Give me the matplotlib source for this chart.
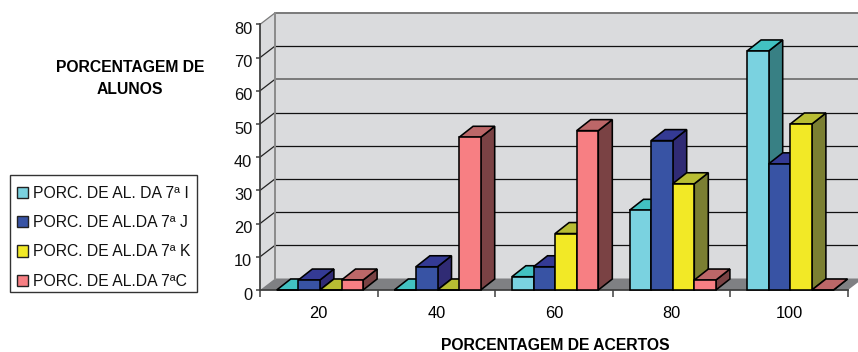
#!/usr/bin/env python3
"""Pseudo-3D clustered bar chart of students per score band, one series per class."""

import matplotlib
matplotlib.use('Agg')
import matplotlib.pyplot as plt
from matplotlib.patches import Patch, Polygon, Rectangle
from matplotlib.transforms import ScaledTranslation

plt.rcParams['font.family'] = ['Liberation Sans', 'DejaVu Sans']

categories = ['20', '40', '60', '80', '100']
y_ticks = [0, 10, 20, 30, 40, 50, 60, 70, 80]

turma_i = [0, 0, 4, 24, 72]
turma_j = [3, 7, 7, 45, 38]
turma_k = [0, 0, 17, 32, 50]
turma_c = [3, 46, 48, 3, 0]

series = [turma_i, turma_j, turma_k, turma_c]
labels = ['PORC. DE AL. DA 7ª I', 'PORC. DE AL.DA 7ª J',
          'PORC. DE AL.DA 7ª K', 'PORC. DE AL.DA 7ªC']
# front, top, side
colors = [('#7ad2e0', '#42c2c2', '#388084'),
          ('#3853a4', '#343a94', '#302b74'),
          ('#f2e926', '#b8bd33', '#7b7f32'),
          ('#f77f83', '#bc6768', '#7a4244')]

W, H = 858, 352
WALL_COLOR = '#dadbdd'
FLOOR_COLOR = '#7f8083'
AXIS_COLOR = '#404040'

# extrusion of the box, in data units
wall_dx = 15 / 117.6
wall_dy = 11.5 / 3.32
bar_dx = 14 / 117.6
bar_dy = 11 / 3.32
bar_w = 21.6 / 117.6
first_bar = 16.7 / 117.6


def draw_walls(ax, n):
    top = y_ticks[-1]
    ax.add_patch(Polygon([(0, 0), (wall_dx, wall_dy), (wall_dx, top + wall_dy), (0, top)],
                         fc=WALL_COLOR, ec='none', clip_on=False, zorder=1))
    ax.add_patch(Polygon([(wall_dx, wall_dy), (n + wall_dx, wall_dy),
                          (n + wall_dx, top + wall_dy), (wall_dx, top + wall_dy)],
                         fc=WALL_COLOR, ec='none', clip_on=False, zorder=1))
    ax.add_patch(Polygon([(0, 0), (wall_dx, wall_dy), (n + wall_dx, wall_dy), (n, 0)],
                         fc=FLOOR_COLOR, ec='none', clip_on=False, zorder=2))
    for v in y_ticks[1:]:
        c = '#7a7a7a' if v in (60, 80) else '#111111'
        lw = 1.4 if v in (60, 80) else 0.9
        ax.plot([wall_dx, n + wall_dx], [v + wall_dy, v + wall_dy], color=c, lw=lw,
                clip_on=False, zorder=3, solid_capstyle='butt')
        ax.plot([0, wall_dx], [v, v + wall_dy], color='#7a7a7a' if v == 80 else '#222222',
                lw=0.9, clip_on=False, zorder=3)
    ax.plot([wall_dx, wall_dx], [wall_dy, top + wall_dy], color='#8a8a8a', lw=1.4,
            clip_on=False, zorder=3)


def draw_bar(ax, x, v, cols, z):
    ax.bar(x, v, bar_w, bottom=0, align='edge', facecolor=cols[0], edgecolor='black',
           linewidth=1.15, clip_on=False, zorder=z + 0.2)
    top = [(x, v), (x + bar_dx, v + bar_dy), (x + bar_w + bar_dx, v + bar_dy), (x + bar_w, v)]
    side = [(x + bar_w, 0), (x + bar_w + bar_dx, bar_dy),
            (x + bar_w + bar_dx, v + bar_dy), (x + bar_w, v)]
    ax.add_patch(Polygon(side, fc=cols[2], ec='black', lw=1.15, clip_on=False, zorder=z))
    ax.add_patch(Polygon(top, fc=cols[1], ec='black', lw=1.15, clip_on=False, zorder=z + 0.1))


fig = plt.figure(figsize=(W / 100, H / 100), dpi=100)
ax = fig.add_axes([260 / W, (H - 290) / H, 588 / W, 265.6 / H])
ax.patch.set_visible(False)
ax.set_xlim(0, len(categories))
ax.set_ylim(0, y_ticks[-1])

draw_walls(ax, len(categories))

z = 10
for g in range(len(categories)):
    for s, vals in enumerate(series):
        draw_bar(ax, g + first_bar + s * bar_w, vals[g], colors[s], z)
        z += 1

for name in ('top', 'right'):
    ax.spines[name].set_visible(False)
for name in ('left', 'bottom'):
    ax.spines[name].set_color(AXIS_COLOR)
    ax.spines[name].set_linewidth(1.3)
    ax.spines[name].set_zorder(5)

ax.set_yticks(y_ticks)
ax.set_yticklabels([str(v) for v in y_ticks], fontsize=11.8, color='#111111')
ax.set_xticks(range(len(categories) + 1))
ax.set_xticklabels([''] * (len(categories) + 1))
ax.tick_params(axis='y', length=3, width=1.1, color=AXIS_COLOR, pad=2.5)
ax.tick_params(axis='x', length=5, width=1.1, color=AXIS_COLOR)

# y labels sit slightly below their ticks
shift = ScaledTranslation(0, -3.5 / 100, fig.dpi_scale_trans)
for lab in ax.get_yticklabels():
    lab.set_transform(lab.get_transform() + shift)

for i, cat in enumerate(categories):
    ax.annotate(cat, (i + 0.5, 0), xytext=(0, -23), textcoords='offset pixels', ha='center',
                va='center', fontsize=11.8, color='black', annotation_clip=False)

title_size = 11.3
fig.text(130 / W, 1 - 67 / H, 'PORCENTAGEM DE', ha='center', va='center',
         fontsize=title_size, fontweight='bold', color='black')
fig.text(129.5 / W, 1 - 89 / H, 'ALUNOS', ha='center', va='center',
         fontsize=title_size, fontweight='bold', color='black')
fig.text(555 / W, 1 - 345.5 / H, 'PORCENTAGEM DE ACERTOS', ha='center', va='center',
         fontsize=title_size, fontweight='bold', color='black')

# legend box drawn separately so the rows can sit a little low inside it
fig.add_artist(Rectangle((10 / W, 1 - 292 / H), 187 / W, 117 / H, transform=fig.transFigure,
                         facecolor='white', edgecolor='#333333', linewidth=1.0))

handles = [Patch(facecolor=c[0], edgecolor='#222222', linewidth=1.0, label=l)
           for c, l in zip(colors, labels)]
leg = fig.legend(handles=handles, loc='upper left',
                 bbox_to_anchor=(10 / W, 1 - 179 / H), bbox_transform=fig.transFigure,
                 fontsize=11.3, frameon=False, handlelength=0.72, handleheight=0.72,
                 handletextpad=0.32, labelspacing=0.92, borderpad=0.42, borderaxespad=0,
                 labelcolor='#111111')

fig.savefig('out.png', dpi=100)
